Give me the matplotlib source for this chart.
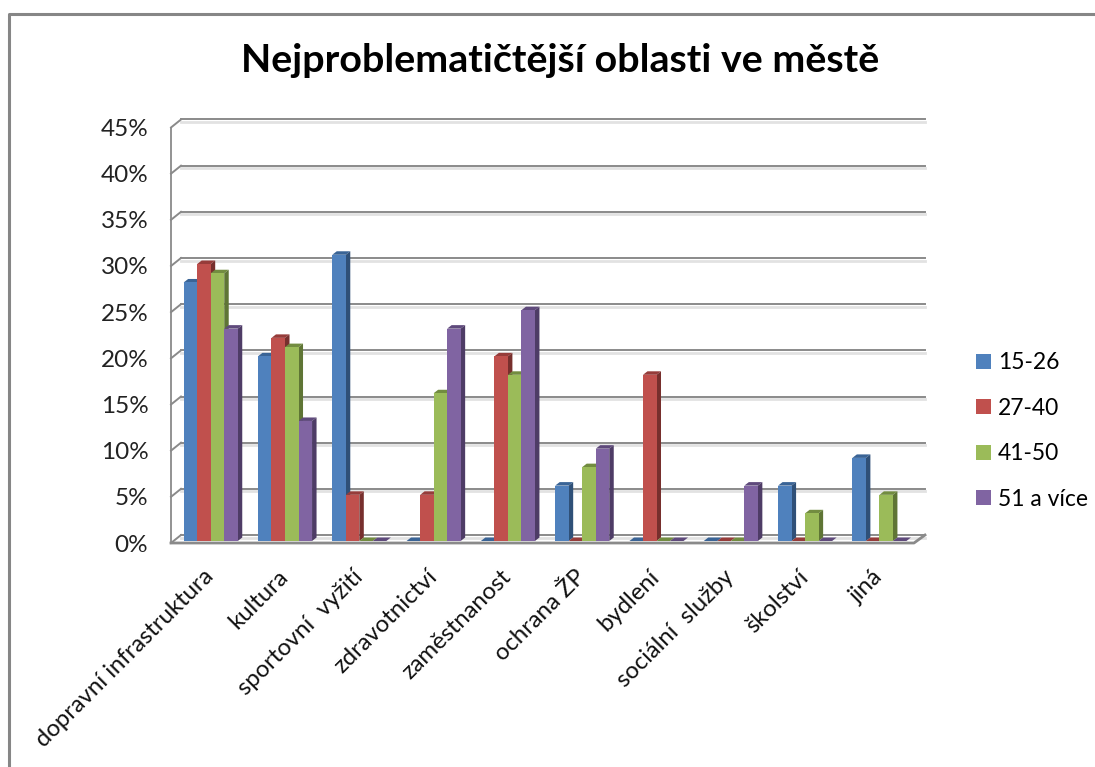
import matplotlib
matplotlib.use("Agg")
import matplotlib.pyplot as plt
from matplotlib.lines import Line2D
from matplotlib.patches import Patch, Polygon
from matplotlib.transforms import ScaledTranslation

categories = ["dopravní infrastruktura", "kultura", "sportovní  vyžití", "zdravotnictví",
              "zaměstnanost", "ochrana ŽP", "bydlení", "sociální  služby", "školství", "jiná"]
series_names = ["15-26", "27-40", "41-50", "51 a více"]
s1 = [28, 20, 31, 0, 0, 6, 0, 0, 6, 9]
s2 = [30, 22, 5, 5, 20, 0, 18, 0, 0, 0]
s3 = [29, 21, 0, 16, 18, 8, 0, 0, 3, 5]
s4 = [23, 13, 0, 23, 25, 10, 0, 6, 0, 0]
yticks = [0, 5, 10, 15, 20, 25, 30, 35, 40, 45]

front = ["#4f81bd", "#c0504d", "#9bbb59", "#8064a2"]
top = ["#3a6496", "#963c3a", "#728c40", "#5f4a7c"]
side = ["#2f5078", "#772f2d", "#5f7535", "#4e3c66"]

W, H = 1095, 767
plt.rcParams["font.family"] = ["Lato", "DejaVu Sans"]
fig = plt.figure(figsize=(W / 100, H / 100), dpi=100)

# front plane of the 3d box, in pixels
left, right, y0, y45 = 174, 917, 541, 125.5
ax = fig.add_axes([left / W, 1 - y0 / H, (right - left) / W, (y0 - y45) / H])
ax.set_xlim(-0.5, 9.5)
ax.set_ylim(0, 45)
for sp in ax.spines.values():
    sp.set_visible(False)

px = (right - left) / 10       # px per category
py = (y0 - y45) / 45           # px per percent


def dx(p):
    return p / px


def dy(p):
    return p / py


# box: floor, wall and gridlines
gcol = "#8a8a8a"
wall_x = -0.5 - dx(3)
shadow = ax.transData + ScaledTranslation(0, -2.5 / 100, fig.dpi_scale_trans)
for t in yticks:
    ax.plot([wall_x + dx(10), 9.5 + dx(8)], [t + dy(6), t + dy(6)], color="#e2e2e2", lw=2, clip_on=False, zorder=1,
            transform=shadow)
    ax.plot([wall_x + dx(10), 9.5 + dx(8)], [t + dy(6), t + dy(6)], color=gcol, lw=1.4, clip_on=False, zorder=2)
    ax.plot([wall_x, wall_x + dx(10)], [t - dy(2), t + dy(6)], color=gcol, lw=1.4, clip_on=False, zorder=2)
ax.plot([wall_x, wall_x], [-dy(2), 45 - dy(2)], color=gcol, lw=1.3, clip_on=False, zorder=2)
ax.plot([wall_x, 9.5 - dx(3), 9.5 + dx(8)], [-dy(2), -dy(2), dy(6)], color=gcol, lw=2, clip_on=False, zorder=2)

# bars
bw = 0.182
for i, vals in enumerate([s1, s2, s3, s4]):
    xs = [c - 0.37 + bw * i + bw / 2 for c in range(len(categories))]
    ax.bar(xs, vals, width=bw, color=front[i], zorder=5 + i * 0.1, clip_on=False)
    for x, v in zip(xs, vals):
        x0, x1 = x - bw / 2, x + bw / 2
        ax.add_patch(Polygon([(x0, v), (x1, v), (x1 + dx(4.5), v + dy(3.5)), (x0 + dx(4.5), v + dy(3.5))],
                             closed=True, fc=top[i], ec="none", zorder=4 + i * 0.1, clip_on=False))
        ax.add_patch(Polygon([(x1, 0), (x1 + dx(4.5), dy(3.5)), (x1 + dx(4.5), v + dy(3.5)), (x1, v)],
                             closed=True, fc=side[i], ec="none", zorder=4 + i * 0.1, clip_on=False))

ax.set_yticks(yticks)
ax.set_yticklabels([f"{t}%" for t in yticks], fontsize=17.5, color="#222222")
ax.tick_params(axis="y", length=0, pad=18.5)
ax.set_xticks(range(len(categories)))
ax.set_xticklabels(categories, rotation=45, ha="right", rotation_mode="anchor", fontsize=17.2, color="#111111")
ax.tick_params(axis="x", length=0, pad=18)
shift = ScaledTranslation(-8 / 100, 0, fig.dpi_scale_trans)
for lab in ax.get_xticklabels():
    lab.set_transform(lab.get_transform() + shift)
shift_y = ScaledTranslation(0, -2 / 100, fig.dpi_scale_trans)
for lab in ax.get_yticklabels():
    lab.set_transform(lab.get_transform() + shift_y)

fig.text(560 / W, 1 - 60 / H, "Nejproblematičtější oblasti ve městě", fontsize=28.4, fontweight="bold",
         ha="center", va="center", color="black")

handles = [Patch(fc=c, ec="none") for c in front]
fig.legend(handles, series_names, loc="center left", bbox_to_anchor=(976 / W, 1 - 431 / H), frameon=False,
           fontsize=16.5, handlelength=0.65, handleheight=0.65, handletextpad=0.3, labelspacing=1.07, borderpad=0, borderaxespad=0)

# chart frame
fig.add_artist(Line2D([8.5 / W, 8.5 / W, 1], [0, 1 - 13.5 / H, 1 - 13.5 / H], color="#868686", lw=2.2))

fig.savefig("out.png", dpi=100)
